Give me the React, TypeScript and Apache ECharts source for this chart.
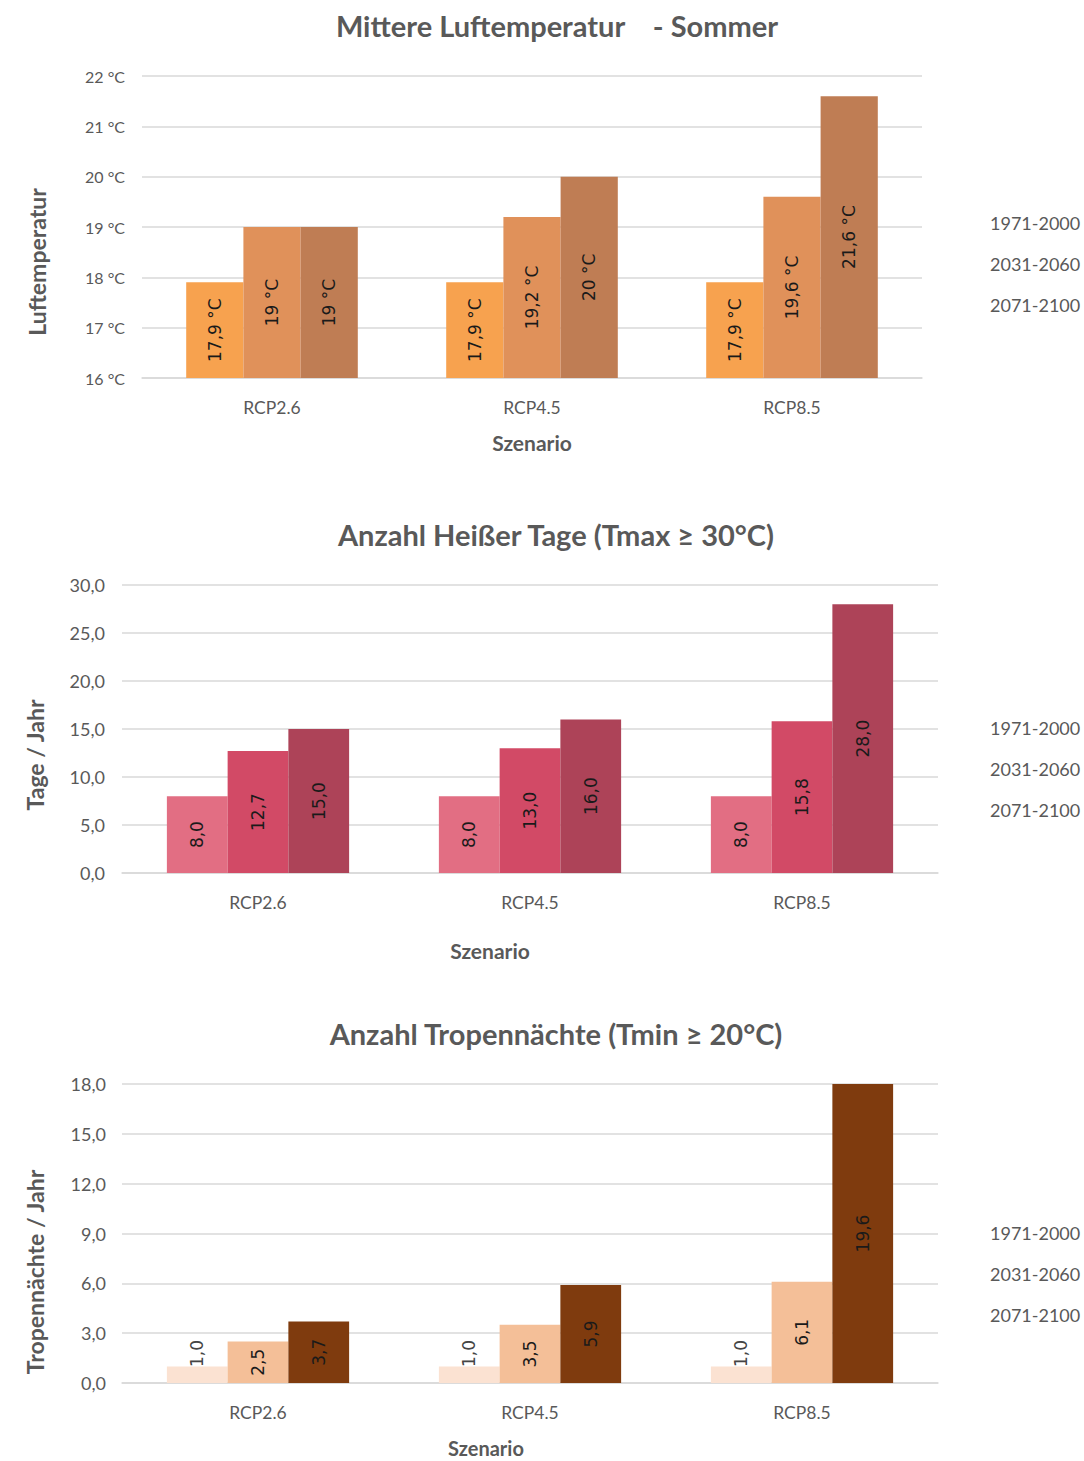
import React, { useEffect, useRef } from "react";
import * as echarts from "echarts";

const scenarios = ["RCP2.6", "RCP4.5", "RCP8.5"];
const periods = ["1971-2000", "2031-2060", "2071-2100"];

const tempValues = [
  [17.9, 17.9, 17.9],
  [19, 19.2, 19.6],
  [19, 20, 21.6],
];
const hotDayValues = [
  [8.0, 8.0, 8.0],
  [12.7, 13.0, 15.8],
  [15.0, 16.0, 28.0],
];
const tropNightValues = [
  [1.0, 1.0, 1.0],
  [2.5, 3.5, 6.1],
  [3.7, 5.9, 19.6],
];

const tempColors = ["#F7A24F", "#E0915A", "#BF7D54"];
const hotColors = ["#E26E83", "#D24A66", "#AD4358"];
const tropColors = ["#FBE2D2", "#F4BF98", "#7F3B0E"];

const titles = [
  "Mittere Luftemperatur    - Sommer",
  "Anzahl Heißer Tage (Tmax ≥ 30°C)",
  "Anzahl Tropennächte (Tmin ≥ 20°C)",
];
const yNames = ["Luftemperatur", "Tage / Jahr", "Tropennächte / Jahr"];

const FONT = "Lato";
const GRAY = "#595959";

const comma = (v: number) => String(v).replace(".", ",");
const fixed1 = (v: number) => v.toFixed(1).replace(".", ",");

export default function App() {
  const ref = useRef<HTMLDivElement>(null);
  useEffect(() => {
    document.body.style.margin = "0";
    const chart = echarts.init(ref.current!, undefined, { renderer: "svg" });

    const grids = [
      { left: 142, top: 76, width: 780, height: 302, outerBoundsMode: "none" },
      { left: 122, top: 585, width: 816, height: 288, outerBoundsMode: "none" },
      { left: 122, top: 1084, width: 816, height: 299, outerBoundsMode: "none" },
    ];
    const yAxes = [
      { min: 16, max: 22, interval: 1, fmt: (v: number) => `${v} °C`, size: 16, margin: 17 },
      { min: 0, max: 30, interval: 5, fmt: fixed1, size: 18, margin: 17 },
      { min: 0, max: 18, interval: 3, fmt: fixed1, size: 18, margin: 16 },
    ];
    const titleTops = [6, 515, 1014];
    const titleCenters = [552, 551, 551];
    const xNameShift = [0, 80, 88];
    const xNameGap = [54, 67, 55];
    const xNameSize = [21, 21, 20];
    const yNameGap = [94, 76, 76];
    const yNameShift = [70, 52, 77];
    const legendTops = [208, 713, 1218];
    const datasets = [tempValues, hotDayValues, tropNightValues];
    const colors = [tempColors, hotColors, tropColors];
    const labelFmts = [(v: number) => `${comma(v)} °C`, fixed1, fixed1];
    const gaps = ["34%", "33%", "33%"];

    const series: any[] = [];
    datasets.forEach((vals, gi) => {
      vals.forEach((arr, si) => {
        series.push({
          type: "bar",
          name: periods[si],
          xAxisIndex: gi,
          yAxisIndex: gi,
          barGap: "0%",
          barCategoryGap: gaps[gi],
          clip: true,
          itemStyle: { color: colors[gi][si] },
          data: arr.map((v) => {
            const item: any = { value: v };
            if (gi === 2 && v <= 1.0) {
              item.label = {
                position: "insideBottom",
                align: "left",
                verticalAlign: "middle",
                distance: 16,
                color: "#444",
              };
            }
            return item;
          }),
          label: {
            show: true,
            position: "inside",
            rotate: 90,
            fontFamily: "DejaVu Sans",
            fontSize: 17,
            color: "#1a1a1a",
            formatter: (p: any) => labelFmts[gi](p.value),
          },
        });
      });
    });

    chart.setOption({
      animation: false,
      backgroundColor: "#ffffff",
      title: titles.map((t, i) => ({
        text: t,
        left: titleCenters[i],
        top: titleTops[i],
        textAlign: "center",
        textStyle: { fontFamily: FONT, fontSize: 29, fontWeight: "bold", color: GRAY },
      })),
      legend: legendTops.map((top) => ({
        data: periods,
        orient: "vertical",
        left: 980,
        top,
        itemWidth: 0,
        itemHeight: 0,
        itemGap: 21,
        icon: "rect",
        selectedMode: false,
        textStyle: { fontFamily: FONT, fontSize: 18, color: GRAY, lineHeight: 20 },
      })),
      grid: grids,
      xAxis: grids.map((_, i) => ({
        type: "category",
        gridIndex: i,
        data: scenarios,
        name: "Szenario",
        nameLocation: "middle",
        nameGap: xNameGap[i],
        nameTextStyle: {
          fontFamily: FONT,
          fontSize: xNameSize[i],
          fontWeight: "bold",
          color: GRAY,
          padding: [0, xNameShift[i], 0, 0],
        },
        axisLine: { show: true, lineStyle: { color: "#d9d9d9", width: 1.5 } },
        axisTick: { show: false },
        axisLabel: { fontFamily: FONT, fontSize: 17.5, color: GRAY, margin: 20 },
      })),
      yAxis: yAxes.map((y, i) => ({
        type: "value",
        gridIndex: i,
        min: y.min,
        max: y.max,
        interval: y.interval,
        name: yNames[i],
        nameLocation: "middle",
        nameGap: yNameGap[i],
        nameTextStyle: {
          fontFamily: FONT,
          fontSize: 23,
          fontWeight: "bold",
          color: GRAY,
          padding: [0, yNameShift[i], 0, 0],
        },
        axisLine: { show: false },
        axisTick: { show: false },
        splitLine: { lineStyle: { color: "#d9d9d9", width: 1.5 } },
        axisLabel: { fontFamily: FONT, fontSize: y.size, color: GRAY, margin: y.margin, formatter: y.fmt },
      })),
      series,
    });
    return () => chart.dispose();
  }, []);
  return <div ref={ref} style={{ width: 1084, height: 1461 }} />;
}
